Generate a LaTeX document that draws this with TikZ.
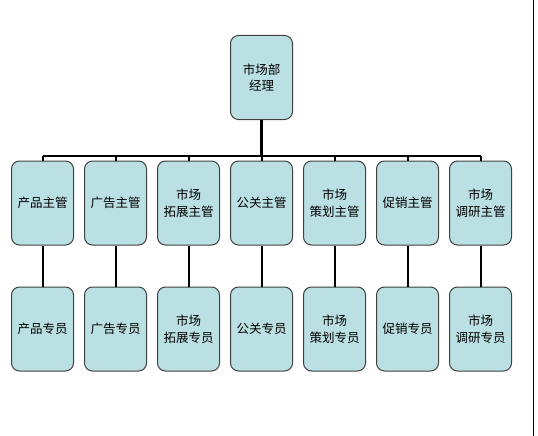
\documentclass[tikz,border=0pt]{standalone}
\usepackage{fontspec}
\newfontfamily\cjk{Noto Sans CJK SC}
\definecolor{boxfill}{HTML}{BBE0E3}
\definecolor{boxline}{HTML}{404040}
\tikzset{
  orgbox/.style={draw=boxline,fill=boxfill,rounded corners=8pt,line width=1pt,
    minimum width=62pt,minimum height=84pt,align=center,
    font=\cjk\fontsize{12.5}{16.5}\selectfont,inner sep=1pt},
  link/.style={line width=2pt}
}
\begin{document}
\begin{tikzpicture}[x=1pt,y=-1pt]
\useasboundingbox (0,0) rectangle (538,436);
\def\busy{156}
\node[orgbox] (mgr) at (261.5,77.5) {市场部\\经理};
\foreach \i/\sup/\staff in {0/产品主管/产品专员,1/广告主管/广告专员,
  2/市场\\拓展主管/市场\\拓展专员,3/公关主管/公关专员,
  4/市场\\策划主管/市场\\策划专员,5/促销主管/促销专员,
  6/市场\\调研主管/市场\\调研专员}{
  \node[orgbox] (sup\i) at (42.5+73*\i,203) {\sup};
  \node[orgbox] (staff\i) at (42.5+73*\i,329) {\staff};
  \coordinate (bus\i) at (42.5+73*\i,\busy);
  \draw[link] (bus\i) -- (sup\i.north);
  \draw[link] (sup\i) -- (staff\i);
}
\draw[line width=2.5pt] (mgr) -- (mgr |- bus0);
\draw[line width=2.5pt] (bus0) -- (bus6);
% right edge
\coordinate (edgetop) at (533,0);
\coordinate (edgebot) at (533,436);
\draw[line width=1pt] (edgetop) -- (edgebot);
\end{tikzpicture}
\end{document}
